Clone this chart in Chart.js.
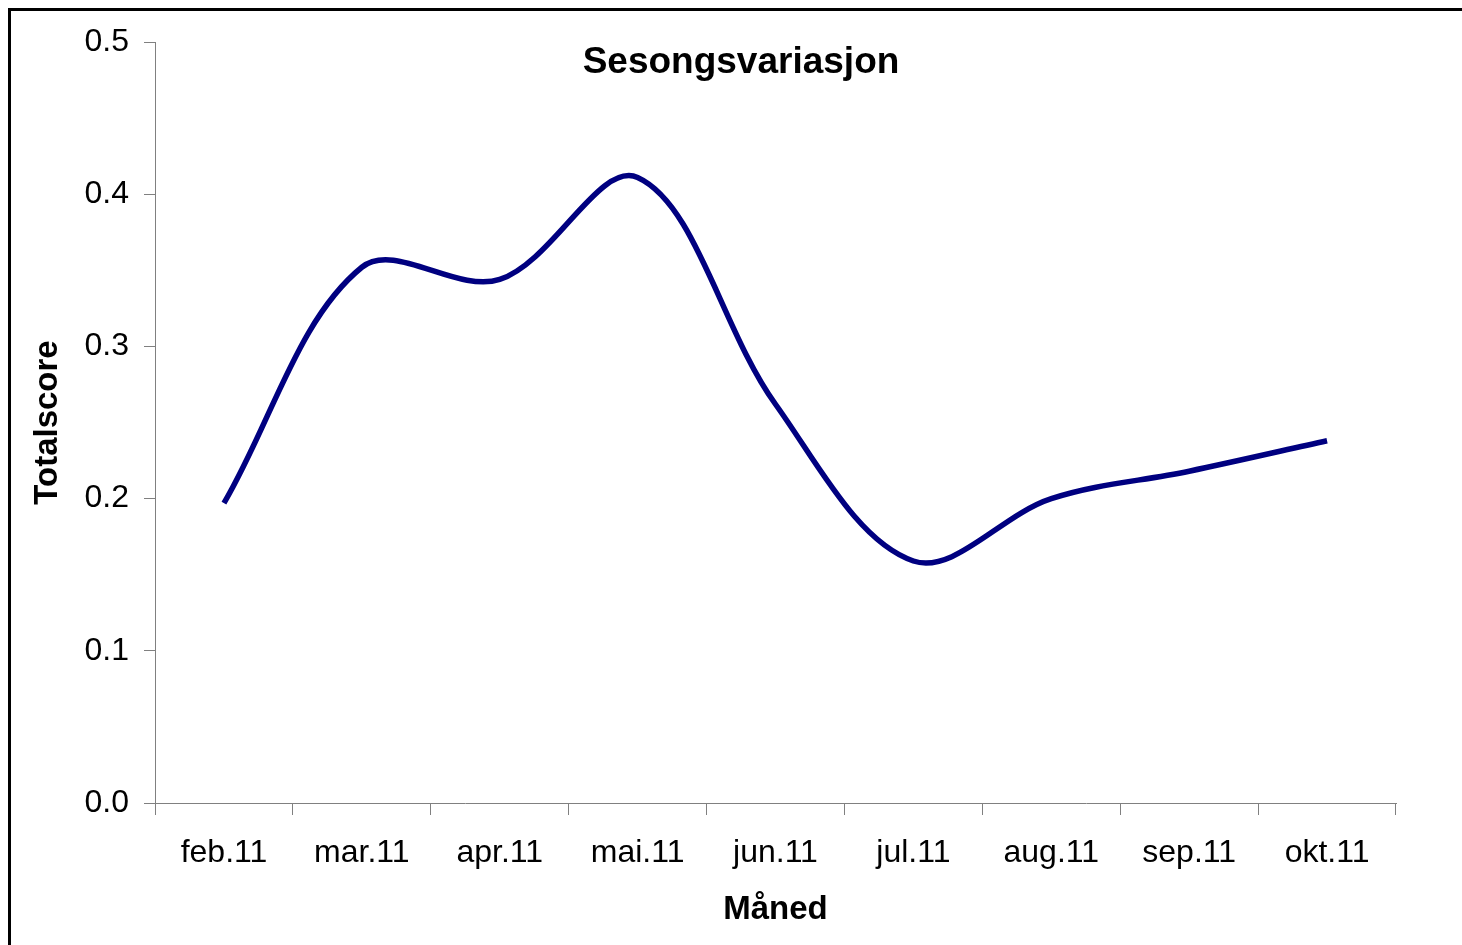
<!DOCTYPE html>
<html>
<head>
<meta charset="utf-8">
<script src="https://cdn.jsdelivr.net/npm/chart.js@4.4.1/dist/chart.umd.min.js"></script>
<style>
    html, body { margin: 0; padding: 0; overflow: hidden; background: #fff; }
    #wrap { position: absolute; left: 0; top: 0; width: 1462px; height: 945px; }
    #frame { position: absolute; left: 8px; top: 8px; width: 1500px; height: 1000px; border: 3px solid #000; box-sizing: border-box; }
</style>
</head>
<body>
<div id="wrap">
    <canvas id="chart" width="1462" height="945"></canvas>
    <div id="frame"></div>
</div>
<script>
// Data
const months = ["feb.11", "mar.11", "apr.11", "mai.11", "jun.11", "jul.11", "aug.11", "sep.11", "okt.11"];
const totalscore = [0.197, 0.352, 0.344, 0.411, 0.262, 0.159, 0.200, 0.218, 0.238];
const yTicks = [0.0, 0.1, 0.2, 0.3, 0.4, 0.5];

const chartTitle = "Sesongsvariasjon";
const xTitle = "Måned";
const yTitle = "Totalscore";

const fontFamily = "'Liberation Sans', Arial, Helvetica, sans-serif";
const axisGray = "#808080";

// title sits inside the plot area, so draw it by hand
const titlePlugin = {
    id: "insideTitle",
    afterDraw(chart) {
        const ctx = chart.ctx;
        ctx.save();
        ctx.font = "bold 37px " + fontFamily;
        ctx.fillStyle = "#000";
        ctx.textAlign = "center";
        ctx.textBaseline = "middle";
        ctx.fillText(chartTitle, 741, 63);
        ctx.restore();
    }
};

const chartCanvas = document.getElementById("chart");
new Chart(chartCanvas, {
    type: "line",
    data: {
        labels: months,
        datasets: [{
            label: yTitle,
            data: totalscore,
            borderColor: "#000080",
            borderWidth: 5.5,
            pointRadius: 0,
            tension: 0.35,
            fill: false
        }]
    },
    options: {
        responsive: false,
        animation: false,
        layout: { padding: { top: 42, right: 66, bottom: 0, left: 0 } },
        plugins: {
            legend: { display: false },
            tooltip: { enabled: false }
        },
        scales: {
            x: {
                offset: true,
                grid: {
                    offset: true,
                    drawOnChartArea: false,
                    drawTicks: true,
                    tickLength: 12,
                    color: axisGray
                },
                border: { color: axisGray, width: 1 },
                ticks: {
                    color: "#000",
                    font: { family: fontFamily, size: 32 },
                    padding: 19,
                    maxRotation: 0,
                    autoSkip: false
                },
                title: {
                    display: true,
                    text: xTitle,
                    color: "#000",
                    font: { family: fontFamily, size: 33, weight: "bold" },
                    padding: { top: 0, bottom: 15 }
                },
                afterFit(scale) { scale.height = 142; }
            },
            y: {
                min: 0,
                max: 0.5,
                afterBuildTicks(scale) {
                    scale.ticks = yTicks.map(v => ({ value: v }));
                },
                grid: {
                    drawOnChartArea: false,
                    drawTicks: true,
                    tickLength: 11,
                    color: axisGray
                },
                border: { color: axisGray, width: 1 },
                ticks: {
                    color: "#000",
                    font: { family: fontFamily, size: 32 },
                    padding: 15,
                    callback: (v) => Number(v).toFixed(1)
                },
                title: {
                    display: true,
                    text: yTitle,
                    color: "#000",
                    font: { family: fontFamily, size: 33, weight: "bold" },
                    padding: { top: 28, bottom: 0 }
                },
                afterFit(scale) { scale.width = 155; }
            }
        }
    },
    plugins: [titlePlugin]
});
</script>
</body>
</html>
